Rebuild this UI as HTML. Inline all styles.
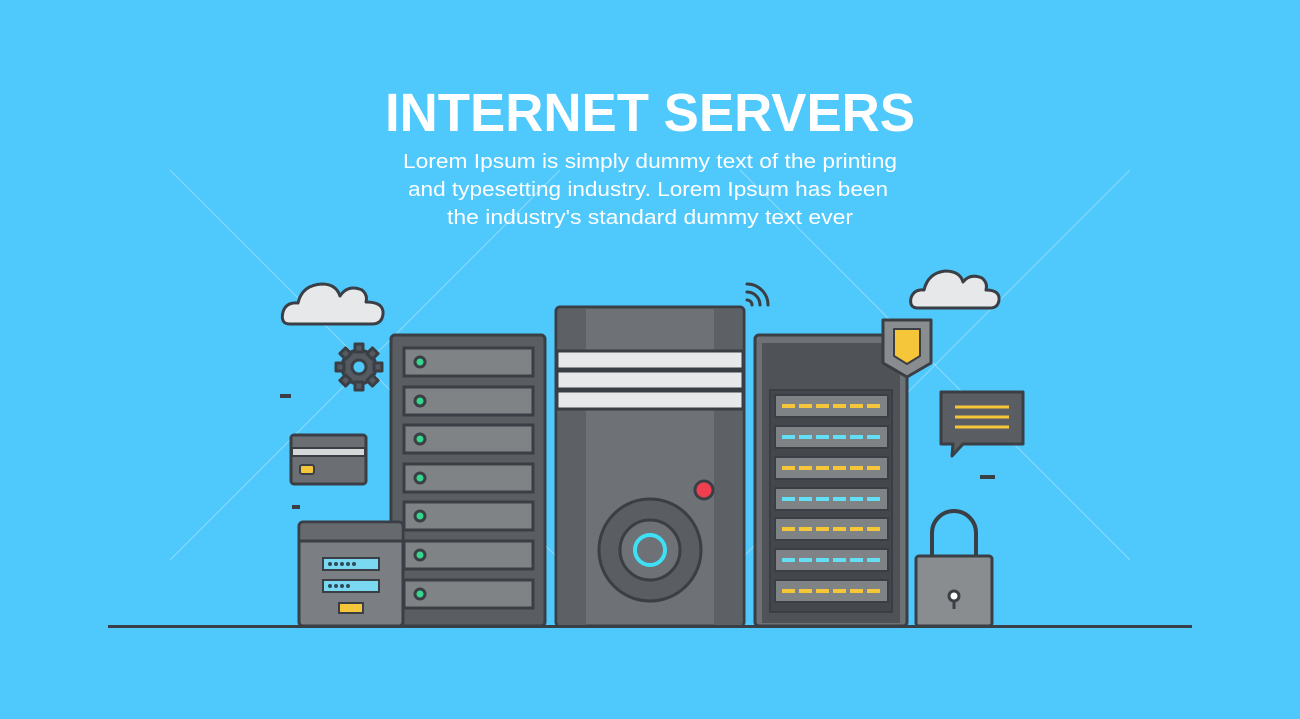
<!DOCTYPE html>
<html><head><meta charset="utf-8"><style>
html,body{margin:0;padding:0;background:#4fc8fc;}
svg{display:block;}
text{font-family:"Liberation Sans",sans-serif;fill:#fff;}
</style></head><body>
<svg width="1300" height="719" viewBox="0 0 1300 719" xmlns="http://www.w3.org/2000/svg">
<rect width="1300" height="719" fill="#4fc8fc"/>
<g stroke="#fff" stroke-opacity="0.35" stroke-width="1">
<line x1="170" y1="170" x2="560" y2="560"/><line x1="560" y1="170" x2="170" y2="560"/>
<line x1="740" y1="170" x2="1130" y2="560"/><line x1="1130" y1="170" x2="740" y2="560"/>
</g>
<text x="650" y="131" text-anchor="middle" font-size="54" font-weight="bold" textLength="530" lengthAdjust="spacingAndGlyphs">INTERNET SERVERS</text>
<text x="650" y="168" text-anchor="middle" font-size="20" textLength="494" lengthAdjust="spacingAndGlyphs">Lorem Ipsum is simply dummy text of the printing</text>
<text x="648" y="196" text-anchor="middle" font-size="20" textLength="480" lengthAdjust="spacingAndGlyphs">and typesetting industry. Lorem Ipsum has been</text>
<text x="650" y="224" text-anchor="middle" font-size="20" textLength="406" lengthAdjust="spacingAndGlyphs">the industry's standard dummy text ever</text>

<g stroke="#3a3f45" stroke-width="3" stroke-linejoin="round" stroke-linecap="round">
<path d="M290 324 Q280 324 283 312 Q286 302 298 303 Q302 285 322 284 Q336 284 340 296 Q348 284 362 290 Q368 295 366 302 Q384 302 383 314 Q382 324 372 324 Z" fill="#e6e8ea"/>
<path d="M918 308 Q909 308 911 298 Q914 289 924 290 Q928 273 945 271 Q960 271 963 282 Q970 273 982 278 Q988 283 986 290 Q1000 290 999 300 Q998 308 990 308 Z" fill="#e6e8ea"/>
<g transform="translate(359,367)">
<circle r="17" fill="#555a60"/>
<g fill="#555a60">
<rect x="-4" y="-23" width="8" height="8"/><rect x="-4" y="15" width="8" height="8"/>
<rect x="-23" y="-4" width="8" height="8"/><rect x="15" y="-4" width="8" height="8"/>
<rect x="-4" y="-23" width="8" height="8" transform="rotate(45)"/><rect x="-4" y="15" width="8" height="8" transform="rotate(45)"/>
<rect x="-23" y="-4" width="8" height="8" transform="rotate(45)"/><rect x="15" y="-4" width="8" height="8" transform="rotate(45)"/>
</g>
<circle r="7" fill="#4fc8fc"/>
</g>
<path d="M747 300 a5 5 0 0 1 5 5 M747 292 a13 13 0 0 1 13 13 M747 284 a21 21 0 0 1 21 21" fill="none"/>
</g>
<g fill="#3a3f45"><rect x="280" y="394" width="11" height="4"/><rect x="292" y="505" width="8" height="4"/><rect x="980" y="475" width="15" height="4"/></g>

<!-- card -->
<g stroke="#3a3f45" stroke-width="3">
<rect x="291" y="435" width="75" height="49" rx="3" fill="#6b6e72"/>
<rect x="292" y="448" width="73" height="8" fill="#d5d7d9" stroke-width="2"/>
<rect x="300" y="465" width="14" height="9" rx="2" fill="#f5c53a" stroke-width="2"/>
</g>

<!-- rack 1 -->
<g stroke="#3a3f45" stroke-width="3">
<rect x="391" y="335" width="154" height="291" rx="4" fill="#5a5d61"/>
<g fill="#808386">
<rect x="404" y="348" width="129" height="28"/><rect x="404" y="387" width="129" height="28"/>
<rect x="404" y="425" width="129" height="28"/><rect x="404" y="464" width="129" height="28"/>
<rect x="404" y="502" width="129" height="28"/><rect x="404" y="541" width="129" height="28"/>
<rect x="404" y="580" width="129" height="28"/>
</g>
<g fill="#36d68c" stroke-width="3">
<circle cx="420" cy="362" r="5"/><circle cx="420" cy="401" r="5"/><circle cx="420" cy="439" r="5"/>
<circle cx="420" cy="478" r="5"/><circle cx="420" cy="516" r="5"/><circle cx="420" cy="555" r="5"/><circle cx="420" cy="594" r="5"/>
</g>
</g>
<!-- small box (in front of rack) -->
<g stroke="#3a3f45" stroke-width="3">
<rect x="299" y="522" width="104" height="104" rx="4" fill="#7b7e82"/>
<rect x="301" y="524" width="100" height="16" fill="#66696d" stroke="none"/>
<line x1="300" y1="541" x2="402" y2="541"/>
<rect x="323" y="558" width="56" height="12" fill="#7ad9f0" stroke-width="2"/>
<rect x="323" y="580" width="56" height="12" fill="#7ad9f0" stroke-width="2"/>
<rect x="339" y="603" width="24" height="10" fill="#f5c53a" stroke-width="2"/>
</g>
<g fill="#2d4c5a"><circle cx="330" cy="564" r="2"/><circle cx="336" cy="564" r="2"/><circle cx="342" cy="564" r="2"/><circle cx="348" cy="564" r="2"/><circle cx="354" cy="564" r="2"/>
<circle cx="330" cy="586" r="2"/><circle cx="336" cy="586" r="2"/><circle cx="342" cy="586" r="2"/><circle cx="348" cy="586" r="2"/></g>

<!-- tower -->
<g stroke="#3a3f45" stroke-width="3">
<rect x="556" y="307" width="188" height="319" rx="4" fill="#6e7175"/>
<rect x="558" y="309" width="28" height="316" fill="#5d6064" stroke="none"/>
<rect x="714" y="309" width="28" height="316" fill="#5d6064" stroke="none"/>
<rect x="557" y="351" width="186" height="18" fill="#e6e8ea"/>
<rect x="557" y="371" width="186" height="18" fill="#e6e8ea"/>
<rect x="557" y="391" width="186" height="18" fill="#e6e8ea"/>
<circle cx="704" cy="490" r="9" fill="#f04050"/>
<circle cx="650" cy="550" r="51" fill="#5a5d61"/>
<circle cx="650" cy="550" r="30" fill="#6e7175"/>
<circle cx="650" cy="550" r="15" fill="#6e7175" stroke="#3ee0f5" stroke-width="4"/>
</g>
<!-- rack 2 -->
<g stroke="#3a3f45" stroke-width="3">
<rect x="755" y="335" width="152" height="291" rx="4" fill="#6e7175"/>
<rect x="762" y="343" width="138" height="280" fill="#4f5256" stroke="none"/>
<rect x="770" y="390" width="122" height="222" fill="#44474b" stroke-width="2"/>
<g fill="#808386" stroke-width="2">
<rect x="775" y="395" width="113" height="22"/><rect x="775" y="426" width="113" height="22"/>
<rect x="775" y="457" width="113" height="22"/><rect x="775" y="488" width="113" height="22"/>
<rect x="775" y="518" width="113" height="22"/><rect x="775" y="549" width="113" height="22"/>
<rect x="775" y="580" width="113" height="22"/>
</g>
</g>
<g stroke-width="4" stroke-dasharray="13 4">
<line x1="782" y1="406" x2="880" y2="406" stroke="#f5c53a"/>
<line x1="782" y1="437" x2="880" y2="437" stroke="#63def5"/>
<line x1="782" y1="468" x2="880" y2="468" stroke="#f5c53a"/>
<line x1="782" y1="499" x2="880" y2="499" stroke="#63def5"/>
<line x1="782" y1="529" x2="880" y2="529" stroke="#f5c53a"/>
<line x1="782" y1="560" x2="880" y2="560" stroke="#63def5"/>
<line x1="782" y1="591" x2="880" y2="591" stroke="#f5c53a"/>
</g>
<g stroke="#3a3f45" stroke-width="3" stroke-linejoin="round">
<path d="M883 320 H931 V363 L907 377 L883 363 Z" fill="#8a8d90"/>
<path d="M894 329 H920 V356 L907 364 L894 356 Z" fill="#f5c53a" stroke-width="2"/>
</g>
<g stroke="#3a3f45" stroke-width="3" stroke-linejoin="round">
<path d="M941 392 H1023 V444 H963 L952 456 L953 444 H941 Z" fill="#5a5d61"/>
</g>
<g stroke="#f5c53a" stroke-width="3"><line x1="955" y1="407" x2="1009" y2="407"/><line x1="955" y1="417" x2="1009" y2="417"/><line x1="955" y1="427" x2="1009" y2="427"/></g>
<g stroke="#3a3f45" stroke-width="4" fill="none">
<path d="M932 556 V533 a22 22 0 0 1 44 0 V556"/>
</g>
<g stroke="#3a3f45" stroke-width="3">
<rect x="916" y="556" width="76" height="70" rx="3" fill="#8a8d90"/>
<circle cx="954" cy="596" r="5" fill="#fff"/>
<line x1="954" y1="600" x2="954" y2="609" stroke-width="3"/>
</g>
<rect x="108" y="625" width="1084" height="3" fill="#3a3f45"/>
</svg>
</body></html>
